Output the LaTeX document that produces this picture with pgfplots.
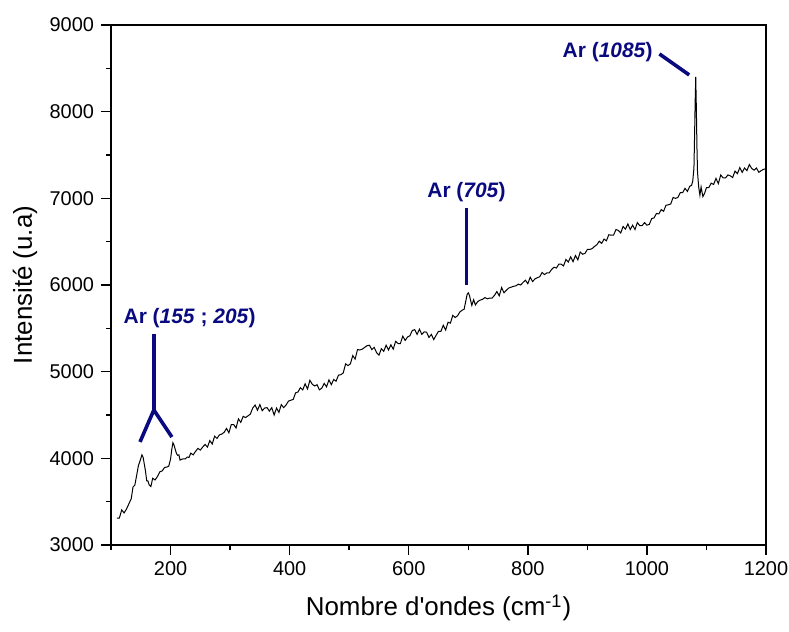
\documentclass[border=0pt]{standalone}
\usepackage{fontspec}
\setmainfont{Liberation Sans}
\newfontfamily\nolig{Liberation Sans}[Ligatures=TeXOff]
\usepackage{pgfplots}
\pgfplotsset{compat=1.18}
\definecolor{annot}{RGB}{10,10,128}
\begin{document}
\begin{tikzpicture}
\begin{axis}[
  scale only axis,
  width=327.5bp, height=260bp,
  xmin=100, xmax=1200, ymin=3000, ymax=9000,
  xtick={200,400,...,1200},
  minor xtick={100,300,...,1100},
  ytick={3000,4000,...,9000},
  minor ytick={3500,4500,...,8500},
  tick align=outside,
  xtick pos=left, ytick pos=left,
  major tick length=5bp, minor tick length=2.5bp,
  axis line style={line width=0.7bp},
  every tick/.style={line width=0.7bp, black},
  /pgf/number format/assume math mode=true,
  /pgf/number format/1000 sep={},
  ticklabel style={font=\fontsize{10}{12}\selectfont},
  xlabel={Nombre d{\nolig'}ondes (cm\textsuperscript{-1})},
  ylabel={Intensité (u.a)},
  xlabel style={font=\fontsize{13}{15}\selectfont, at={([yshift=-31.5bp]axis description cs:0.5,0)}, anchor=center},
  ylabel style={font=\fontsize{13}{15}\selectfont, at={([xshift=-43bp]axis description cs:0,0.5)}, anchor=center},
  clip=false,
]
\addplot[black, line width=0.5bp] coordinates {
(110,3310)(114,3310)(118,3405)(122,3370)(126,3415)(130,3475)(134,3535)(137,3670)
(140,3690)(143,3800)(146,3915)(149,3975)(152,4040)(154,4010)(156,3930)(158,3850)
(160,3740)(162,3740)(164,3695)(167,3675)(170,3770)(174,3750)(178,3790)(182,3845)
(186,3855)(190,3895)(194,3900)(197,3910)(200,3990)(202,4100)(204,4180)(206,4150)
(208,4100)(210,4055)(212,4035)(214,4040)(216,3980)(219,3990)(222,3995)(225,3995)
(228,4015)(231,4010)(234,4060)(238,4040)(242,4080)(246,4115)(250,4095)(254,4130)
(258,4160)(262,4130)(266,4205)(270,4165)(274,4255)(278,4230)(282,4270)(286,4280)
(290,4300)(294,4345)(298,4295)(302,4390)(306,4390)(310,4350)(314,4455)(318,4415)
(322,4485)(326,4470)(330,4490)(334,4510)(338,4580)(342,4615)(346,4555)(350,4620)
(354,4550)(358,4580)(362,4585)(366,4545)(370,4585)(374,4500)(378,4580)(382,4530)
(386,4620)(390,4585)(394,4615)(398,4660)(402,4670)(406,4680)(410,4755)(414,4765)
(418,4815)(422,4790)(426,4860)(430,4800)(434,4900)(438,4855)(442,4835)(446,4850)
(450,4790)(454,4810)(458,4865)(462,4825)(466,4905)(470,4850)(474,4910)(478,4890)
(482,4960)(486,4965)(490,4985)(494,5090)(498,5070)(502,5090)(506,5185)(510,5145)
(514,5255)(518,5250)(522,5260)(526,5280)(530,5300)(534,5305)(538,5255)(542,5280)
(546,5220)(550,5190)(554,5265)(558,5235)(562,5305)(566,5250)(570,5310)(574,5260)
(578,5350)(582,5325)(586,5325)(590,5410)(594,5360)(598,5400)(602,5415)(606,5475)
(610,5485)(614,5430)(618,5490)(622,5430)(626,5460)(630,5455)(634,5395)(638,5430)
(642,5370)(646,5420)(650,5465)(654,5465)(658,5535)(662,5480)(666,5570)(670,5560)
(674,5650)(678,5625)(682,5645)(686,5690)(690,5710)(693,5720)(696,5820)(698,5890)
(700,5910)(702,5880)(704,5820)(706,5765)(709,5830)(712,5770)(716,5810)(720,5825)
(724,5835)(728,5855)(732,5840)(736,5850)(740,5850)(744,5880)(748,5925)(752,5875)
(756,5970)(760,5910)(764,5940)(768,5965)(772,5975)(776,5985)(780,5990)(784,6010)
(788,6000)(792,6030)(796,6055)(800,6015)(804,6090)(808,6040)(812,6070)(816,6085)
(820,6095)(824,6145)(828,6120)(832,6140)(836,6140)(840,6180)(844,6205)(848,6195)
(852,6240)(856,6240)(860,6220)(864,6295)(868,6265)(872,6325)(876,6270)(880,6340)
(884,6290)(888,6380)(892,6355)(896,6365)(900,6410)(904,6410)(908,6420)(912,6445)
(916,6465)(920,6505)(924,6480)(928,6530)(932,6510)(936,6580)(940,6575)(944,6575)
(948,6640)(952,6630)(956,6600)(960,6675)(964,6645)(968,6705)(972,6640)(976,6690)
(980,6640)(984,6720)(988,6685)(992,6685)(996,6720)(1000,6690)(1004,6700)(1008,6765)
(1012,6775)(1016,6825)(1020,6820)(1024,6870)(1028,6850)(1032,6920)(1036,6925)(1040,6935)
(1044,7010)(1048,7000)(1052,7010)(1056,7065)(1060,7065)(1064,7115)(1068,7080)(1072,7140)
(1075,7150)(1077,7200)(1079,7350)(1080,7700)(1081,8100)(1082,8400)(1083,8050)(1084,7600)
(1085,7300)(1087,7130)(1089,7035)(1091,7130)(1094,7020)(1097,7060)(1100,7125)(1104,7125)
(1108,7175)(1112,7160)(1116,7230)(1120,7170)(1124,7270)(1128,7235)(1132,7235)(1136,7270)
(1140,7260)(1144,7240)(1148,7315)(1152,7285)(1156,7355)(1160,7300)(1164,7350)(1168,7320)
(1172,7390)(1176,7345)(1180,7325)(1184,7350)(1188,7300)(1192,7320)(1196,7335)(1199,7340)
};
% annotations
\draw[annot, line width=1.8bp] (axis cs:172,5435) -- (axis cs:172,4558);
\draw[annot, line width=1.8bp] (axis cs:148.7,4189) -- (axis cs:172,4558) -- (axis cs:202.3,4246);
\node[annot, font=\bfseries\fontsize{10.5}{12}\selectfont] at (axis cs:232,5620) {Ar (\textit{155} ; \textit{205})};
\draw[annot, line width=1.8bp] (axis cs:697,6889) -- (axis cs:697,6000);
\node[annot, font=\bfseries\fontsize{10.5}{12}\selectfont] at (axis cs:697,7074) {Ar (\textit{705})};
\draw[annot, line width=1.8bp] (axis cs:1021,8666) -- (axis cs:1071,8424);
\node[annot, font=\bfseries\fontsize{10.5}{12}\selectfont] at (axis cs:934,8690) {Ar (\textit{1085})};
\coordinate (BL) at (rel axis cs:0,0);
\coordinate (TR) at (rel axis cs:1,1);
\end{axis}
\pgfresetboundingbox
\path[use as bounding box] ([shift={(-55.5bp,-43.5bp)}]BL) rectangle ([shift={(11.5bp,12.5bp)}]TR);
\end{tikzpicture}
\end{document}
